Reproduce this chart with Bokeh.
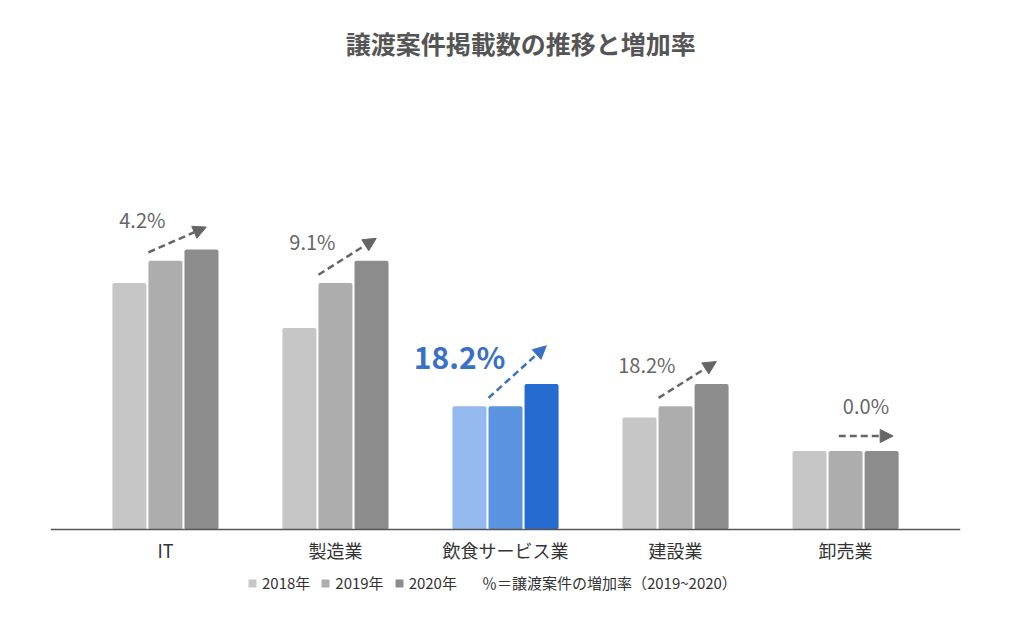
from bokeh.core.properties import value
from bokeh.embed import file_html
from bokeh.models import (Arrow, ColumnDataSource, FixedTicker, Label, Legend, LegendItem,
                          NormalHead, Range1d)
from bokeh.plotting import figure
from bokeh.resources import INLINE

# data
title = "譲渡案件掲載数の推移と増加率"
categories = ["IT", "製造業", "飲食サービス業", "建設業", "卸売業"]
years = ["2018年", "2019年", "2020年"]
v2018 = [22, 18, 11, 10, 7]
v2019 = [24, 22, 11, 11, 7]
v2020 = [25, 24, 13, 13, 7]
highlight = "飲食サービス業"
note = "％＝譲渡案件の増加率（2019~2020）"

GRAY = ["#c6c6c6", "#adadad", "#8c8c8c"]
BLUE = ["#94b9ee", "#5a93e0", "#266bcf"]
FONT = "Noto Sans CJK JP"

xs = list(range(len(categories)))

p = figure(
    width=1008, height=608,
    x_range=Range1d(-0.676, 4.676), y_range=Range1d(-7.05, 47.23),
    output_backend="svg", toolbar_location=None,
    min_border_left=50, min_border_right=48, min_border_top=0, min_border_bottom=0,
)

# title drawn inside the frame, above the bars
p.add_layout(Label(
    x=(xs[0] + xs[-1]) / 2 + 0.09, y=43.48, text=title,
    text_font=FONT, text_font_size="25px", text_font_style="bold",
    text_color="#555555", text_align="center", text_baseline="middle",
))

# bars, one renderer per year
offsets = [-0.212, 0, 0.212]
bar_renderers = []
for i, vals in enumerate([v2018, v2019, v2020]):
    colors = [BLUE[i] if c == highlight else GRAY[i] for c in categories]
    src = ColumnDataSource(dict(x=[x + offsets[i] for x in xs], top=vals, color=colors))
    r = p.vbar(x="x", top="top", bottom=0, width=0.2, source=src,
               fill_color="color", line_color=None, border_radius=2)
    bar_renderers.append(r)

# growth arrows and labels (2019 -> 2020)
for x, cat, a, b in zip(xs, categories, v2019, v2020):
    hl = cat == highlight
    rate = (b / a - 1) * 100
    color = "#3a6fc6" if hl else "#666666"
    if b == a:
        x0, y0, x1, y1 = x - 0.04, a + 1.35, x + 0.28, b + 1.35
        lx, ly, align = x + 0.12, a + 4.1, "center"
    else:
        lift = 3.4 if hl else 2.0
        x0, y0, x1, y1 = x - 0.1, a + 0.75, x + 0.24, b + lift
        lx, ly, align = x, a + (4.5 if hl else 3.7), "right"
    p.add_layout(Arrow(
        end=NormalHead(size=13, fill_color=color, line_color=color),
        x_start=x0, y_start=y0, x_end=x1, y_end=y1,
        line_color=color, line_width=2.5, line_dash="7 4",
    ))
    p.text(x=[lx], y=[ly], text=[f"{rate:.1f}%"],
           text_font=value(FONT),
           text_font_size="30px" if hl else "20px",
           text_font_style="bold" if hl else "normal",
           text_color=color, text_align=align, text_baseline="middle")

# axes: x axis sits on the zero line inside the frame
p.yaxis.visible = False
p.xgrid.visible = False
p.ygrid.visible = False
p.outline_line_color = None
p.xaxis.fixed_location = 0
p.xaxis.ticker = FixedTicker(ticks=xs)
p.xaxis.major_label_overrides = {x: c for x, c in zip(xs, categories)}
p.xaxis.major_tick_line_color = None
p.xaxis.minor_tick_line_color = None
p.xaxis.axis_line_color = "#555555"
p.xaxis.axis_line_width = 1.5
p.xaxis.major_label_text_font = FONT
p.xaxis.major_label_text_font_size = "18px"
p.xaxis.major_label_text_color = "#333333"
p.xaxis.major_label_standoff = 1

# legend under the axis labels
blank = p.scatter(x=[], y=[], fill_alpha=0, line_alpha=0)
items = [LegendItem(label=y, renderers=[r], index=0) for y, r in zip(years, bar_renderers)]
items.append(LegendItem(label=note, renderers=[blank]))
legend = Legend(
    items=items, orientation="horizontal", location=(197, 15),
    label_text_font=FONT, label_text_font_size="15px", label_text_color="#333333",
    glyph_width=10, glyph_height=10, label_standoff=5, spacing=10,
    border_line_color=None, background_fill_alpha=0, margin=0, padding=5,
)
p.add_layout(legend)

open("out.html", "w").write(file_html(p, INLINE))
